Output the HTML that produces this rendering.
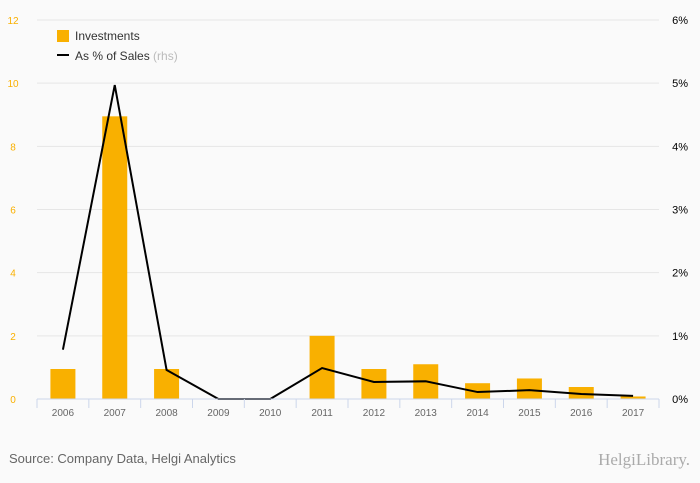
<!DOCTYPE html>
<html><head><meta charset="utf-8"><style>
body{margin:0;background:#fafafa;font-family:"Liberation Sans",sans-serif}
svg{display:block}
</style></head><body>
<svg id="c" width="700" height="483">
<rect width="700" height="483" fill="#fafafa"/>
<g id="grid"></g><g id="bars"></g><g id="line"></g><g id="axes"></g>
<g>
<rect x="57" y="30" width="12" height="12" fill="#f9b000"/>
<text x="75" y="40" font-size="12" fill="#333">Investments</text>
<line x1="57" y1="55" x2="69" y2="55" stroke="#000" stroke-width="2"/>
<text x="75" y="60" font-size="12" fill="#333">As % of Sales <tspan fill="#bbb">(rhs)</tspan></text>
</g>
<text x="9" y="463" font-size="13" fill="#666">Source: Company Data, Helgi Analytics</text>
<text x="690" y="465" font-size="17" fill="#aaa" text-anchor="end" font-family="Liberation Serif,serif">HelgiLibrary.</text>
</svg>
<script>
const categories=["2006","2007","2008","2009","2010","2011","2012","2013","2014","2015","2016","2017"];
const investments=[0.95,8.95,0.95,0,0,2.0,0.95,1.1,0.5,0.65,0.38,0.08];
const salesPct=[0.78,4.97,0.46,0,0,0.49,0.27,0.28,0.11,0.14,0.08,0.05];
const leftTicks=[0,2,4,6,8,10,12];
const rightTicks=[0,1,2,3,4,5,6];
const NS="http://www.w3.org/2000/svg";
const X0=37,X1=659,Y0=399,Y1=20;
const step=(X1-X0)/categories.length;
const xc=i=>X0+step*(i+0.5);
const yl=v=>Y0-(v/12)*(Y0-Y1);
const yr=v=>Y0-(v/6)*(Y0-Y1);
function mk(tag,attrs,parent,txt){const e=document.createElementNS(NS,tag);for(const k in attrs)e.setAttribute(k,attrs[k]);if(txt!==undefined)e.textContent=txt;document.getElementById(parent).appendChild(e);return e;}
leftTicks.forEach((t,i)=>{
 if(t>0){const g=mk('line',{x1:X0,x2:X1,y1:yl(t),y2:yl(t),stroke:'#e6e6e6'},'grid');
 
 }
 const l=mk('text',{x:13,y:yl(t)+4,'font-size':10,fill:'#f9b000','text-anchor':'middle'},'axes',String(t));
 
 
});
rightTicks.forEach(t=>{
 const l=mk('text',{x:688,y:yr(t)+4,'font-size':11,fill:'#000','text-anchor':'end'},'axes',t+'%');
 
 
});
investments.forEach((v,i)=>{
 const b=mk('rect',{x:xc(i)-12.5,y:yl(v),width:25,height:Y0-yl(v),fill:'#f9b000'},'bars');
 
 
});
const p=mk('polyline',{points:salesPct.map((v,i)=>xc(i)+','+yr(v)).join(' '),fill:'none',stroke:'#000','stroke-width':2},'line');


const ax=mk('line',{x1:X0,x2:X1,y1:Y0,y2:Y0,stroke:'#ccd6eb'},'axes');


for(let i=0;i<=categories.length;i++){
 const t=mk('line',{x1:X0+step*i,x2:X0+step*i,y1:Y0,y2:Y0+9,stroke:'#ccd6eb'},'axes');
 
 
}
categories.forEach((c,i)=>{
 const l=mk('text',{x:xc(i),y:416,'font-size':10,fill:'#666','text-anchor':'middle'},'axes',c);
 
 
});
</script>
</body></html>
